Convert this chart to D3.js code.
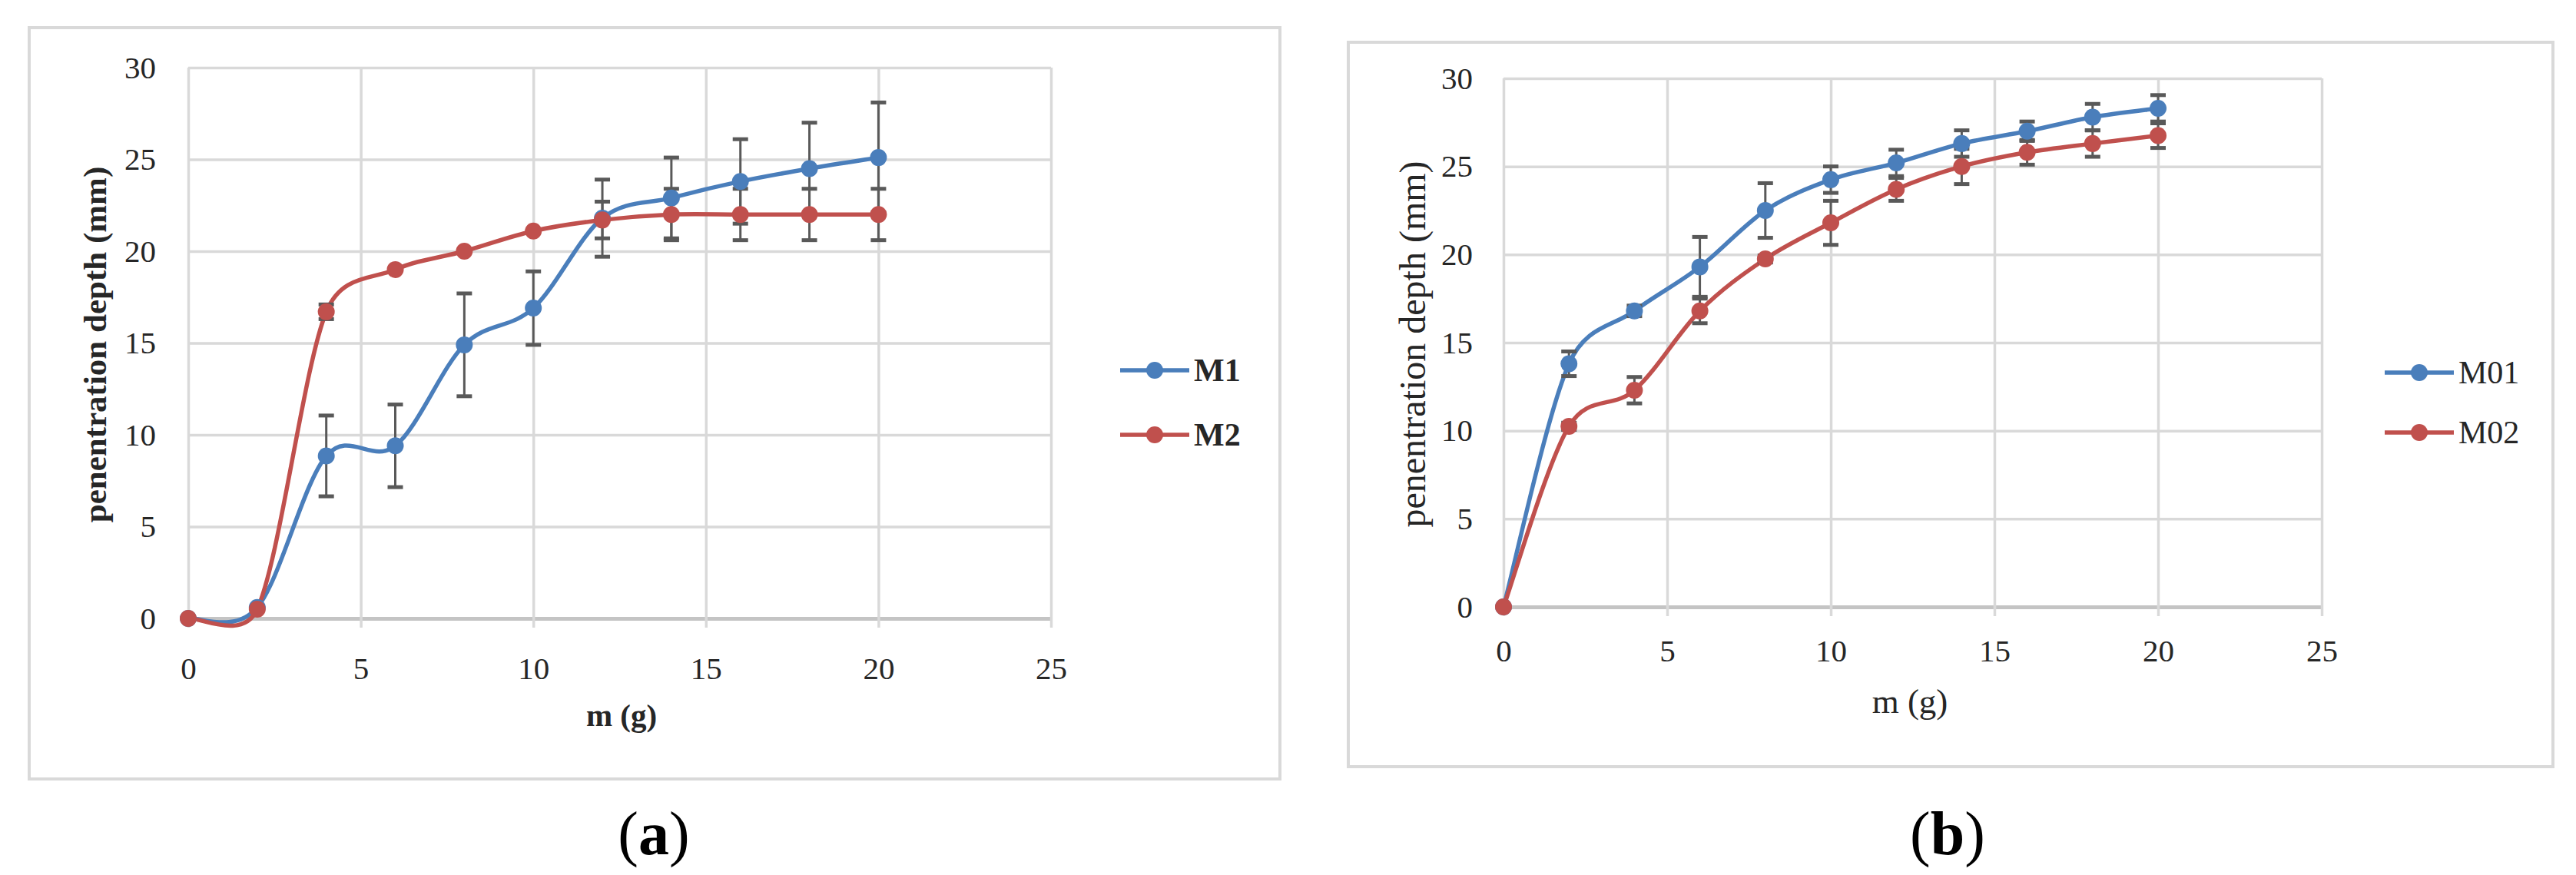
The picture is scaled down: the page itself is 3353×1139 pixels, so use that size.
<!DOCTYPE html>
<html>
<head>
<meta charset="utf-8">
<script src="https://cdn.jsdelivr.net/npm/d3@7"></script>
<style>
  body { margin: 0; background: #fff; }
  svg { display: block; }
</style>
</head>
<body>
<div id="chart"></div>
<script>
// Data
const mass = [0, 2, 4, 6, 8, 10, 12, 14, 16, 18, 20]
const xTicks = [0, 5, 10, 15, 20, 25]
const yTicks = [0, 5, 10, 15, 20, 25, 30]

// panel (a)
const m1 = [0, 0.6, 8.85, 9.4, 14.9, 16.9, 21.8, 22.9, 23.8, 24.5, 25.1]
const m1Err = [0, 0, 2.2, 2.25, 2.8, 2.0, 2.1, 2.2, 2.3, 2.5, 3.0]
const m2 = [0, 0.5, 16.7, 19.0, 20.0, 21.1, 21.7, 22.0, 22.0, 22.0, 22.0]
const m2Err = [0, 0, 0.4, 0, 0, 0, 1.0, 1.4, 1.4, 1.4, 1.4]

// panel (b)
const m01 = [0, 13.8, 16.8, 19.3, 22.5, 24.25, 25.2, 26.3, 27.0, 27.8, 28.3]
const m01Err = [0, 0.7, 0.3, 1.7, 1.55, 0.75, 0.75, 0.75, 0.55, 0.75, 0.75]
const m02 = [0, 10.25, 12.3, 16.8, 19.75, 21.8, 23.7, 25.0, 25.8, 26.3, 26.75]
const m02Err = [0, 0.2, 0.75, 0.7, 0.2, 1.25, 0.65, 1.0, 0.7, 0.75, 0.7]

// Colors
const blue = '#4a7ebb'
const red = '#c0504d'
const errColor = '#595959'
const gridColor = '#d9d9d9'
const textColor = '#262626'
const font = '"Liberation Serif", "DejaVu Serif", serif'

// Excel-like smoothing: Catmull-Rom bezier handles (1/6), shortened to half the segment
function curveExcel(context) {
	let pts = []
	return {
		areaStart() {},
		areaEnd() {},
		lineStart() { pts = [] },
		point(x, y) { pts.push([x, y]) },
		lineEnd() {
			let n = pts.length
			if (!n) return
			context.moveTo(pts[0][0], pts[0][1])
			let dist = (a, b) => Math.hypot(b[0] - a[0], b[1] - a[1])
			for (let i = 0; i < n - 1; i++) {
				let p0 = pts[Math.max(i - 1, 0)]
				let p1 = pts[i]
				let p2 = pts[i + 1]
				let p3 = pts[Math.min(i + 2, n - 1)]
				let d12 = dist(p1, p2)
				let d02 = dist(p0, p2)
				let d13 = dist(p1, p3)
				let f1 = d02 > 0 ? Math.min(1 / 6, d12 / (2 * d02)) : 0
				let f2 = d13 > 0 ? Math.min(1 / 6, d12 / (2 * d13)) : 0
				context.bezierCurveTo(
					p1[0] + (p2[0] - p0[0]) * f1, p1[1] + (p2[1] - p0[1]) * f1,
					p2[0] - (p3[0] - p1[0]) * f2, p2[1] - (p3[1] - p1[1]) * f2,
					p2[0], p2[1])
			}
		}
	}
}

const svg = d3.select('#chart')
	.append('svg')
	.attr('width', 3353)
	.attr('height', 1139)

const panels = [
	{
		frame: [38, 36, 1666, 1014],
		plot: { left: 245, right: 1368, top: 88, bottom: 805 },
		bold: true,
		xPad: 38, yPad: 42,
		yTitleX: 138, xTitleX: 809, xTitleY: 945,
		legendX: 1458, legendY: [482, 566],
		caption: 'a', captionX: 851,
		series: [
			{ name: 'M1', values: m1, err: m1Err, color: blue },
			{ name: 'M2', values: m2, err: m2Err, color: red }
		]
	},
	{
		frame: [1755, 55, 3323, 998],
		plot: { left: 1957, right: 3022, top: 102, bottom: 790 },
		bold: false,
		xPad: 30, yPad: 40,
		yTitleX: 1855, xTitleX: 2486, xTitleY: 928,
		legendX: 3104, legendY: [485, 563],
		caption: 'b', captionX: 2535,
		series: [
			{ name: 'M01', values: m01, err: m01Err, color: blue },
			{ name: 'M02', values: m02, err: m02Err, color: red }
		]
	}
]

panels.forEach((p) => {
	let g = svg.append('g')
	let f = p.frame

	// outer chart frame
	g.append('rect')
		.attr('x', f[0]).attr('y', f[1])
		.attr('width', f[2] - f[0]).attr('height', f[3] - f[1])
		.attr('fill', '#fff')
		.attr('stroke', gridColor)
		.attr('stroke-width', 4)

	let x = d3.scaleLinear().domain([0, 25]).range([p.plot.left, p.plot.right])
	let y = d3.scaleLinear().domain([0, 30]).range([p.plot.bottom, p.plot.top])
	let h = p.plot.bottom - p.plot.top
	let w = p.plot.right - p.plot.left

	// y axis + horizontal gridlines
	let yAxis = g.append('g')
		.attr('transform', 'translate(' + p.plot.left + ',0)')
		.call(d3.axisLeft(y).tickValues(yTicks).tickSize(-w).tickPadding(p.yPad))
	yAxis.select('.domain').remove()
	yAxis.selectAll('line')
		.attr('stroke', (d) => d === 0 ? '#c4c4c4' : gridColor)
		.attr('stroke-width', (d) => d === 0 ? 5 : 3.5)

	// x axis + vertical gridlines (ticks stick out below the axis)
	let xAxis = g.append('g')
		.attr('transform', 'translate(0,' + (p.plot.bottom + 12) + ')')
		.call(d3.axisBottom(x).tickValues(xTicks).tickSize(-(h + 12)).tickPadding(p.xPad))
	xAxis.select('.domain').remove()
	xAxis.selectAll('line')
		.attr('stroke', gridColor)
		.attr('stroke-width', 3.5)

	g.selectAll('.tick text')
		.attr('font-family', font)
		.attr('font-size', 41)
		.attr('fill', textColor)

	// lines (smoothed)
	let line = d3.line()
		.x((d, i) => x(mass[i]))
		.y((d) => y(d))
		.curve(curveExcel)

	p.series.forEach((s) => {
		g.append('path')
			.attr('d', line(s.values))
			.attr('fill', 'none')
			.attr('stroke', s.color)
			.attr('stroke-width', 5.5)
	})

	// error bars
	p.series.forEach((s) => {
		let bars = g.append('g')
			.attr('stroke', errColor)
			.attr('stroke-width', 3)
		s.values.forEach((v, i) => {
			let e = s.err[i]
			if (e <= 0) return
			let cx = x(mass[i])
			bars.append('line')
				.attr('x1', cx).attr('x2', cx)
				.attr('y1', y(v + e)).attr('y2', y(v - e))
			;[v + e, v - e].forEach((yy) => {
				bars.append('line')
					.attr('x1', cx - 10).attr('x2', cx + 10)
					.attr('y1', y(yy)).attr('y2', y(yy))
					.attr('stroke-width', 5)
			})
		})
	})

	// markers
	p.series.forEach((s) => {
		g.selectAll(null)
			.data(s.values)
			.enter()
			.append('circle')
			.attr('cx', (d, i) => x(mass[i]))
			.attr('cy', (d) => y(d))
			.attr('r', 11)
			.attr('fill', s.color)
	})

	// axis titles
	g.append('text')
		.attr('transform', 'translate(' + p.yTitleX + ',' + ((p.plot.top + p.plot.bottom) / 2 + 2) + ') rotate(-90)')
		.attr('text-anchor', 'middle')
		.attr('font-family', font)
		.attr('font-size', p.bold ? 43 : 48)
		.attr('font-weight', p.bold ? 'bold' : 'normal')
		.attr('fill', textColor)
		.text('penentration depth (mm)')

	g.append('text')
		.attr('x', p.xTitleX)
		.attr('y', p.xTitleY)
		.attr('text-anchor', 'middle')
		.attr('font-family', font)
		.attr('font-size', p.bold ? 41 : 45)
		.attr('font-weight', p.bold ? 'bold' : 'normal')
		.attr('fill', textColor)
		.text('m (g)')

	// legend
	p.series.forEach((s, i) => {
		let ly = p.legendY[i]
		g.append('line')
			.attr('x1', p.legendX).attr('x2', p.legendX + 90)
			.attr('y1', ly).attr('y2', ly)
			.attr('stroke', s.color)
			.attr('stroke-width', 5.5)
		g.append('circle')
			.attr('cx', p.legendX + 45).attr('cy', ly)
			.attr('r', 11)
			.attr('fill', s.color)
		g.append('text')
			.attr('x', p.legendX + 96)
			.attr('y', ly + 14)
			.attr('font-family', font)
			.attr('font-size', 42)
			.attr('font-weight', p.bold ? 'bold' : 'normal')
			.attr('fill', textColor)
			.text(s.name)
	})

	// caption (a) / (b)
	let cap = svg.append('text')
		.attr('x', p.captionX)
		.attr('y', 1112)
		.attr('text-anchor', 'middle')
		.attr('font-family', font)
		.attr('font-size', 80)
		.attr('fill', '#000')
	cap.append('tspan').text('(')
	cap.append('tspan').attr('font-weight', 'bold').text(p.caption)
	cap.append('tspan').text(')')
})
</script>
</body>
</html>
